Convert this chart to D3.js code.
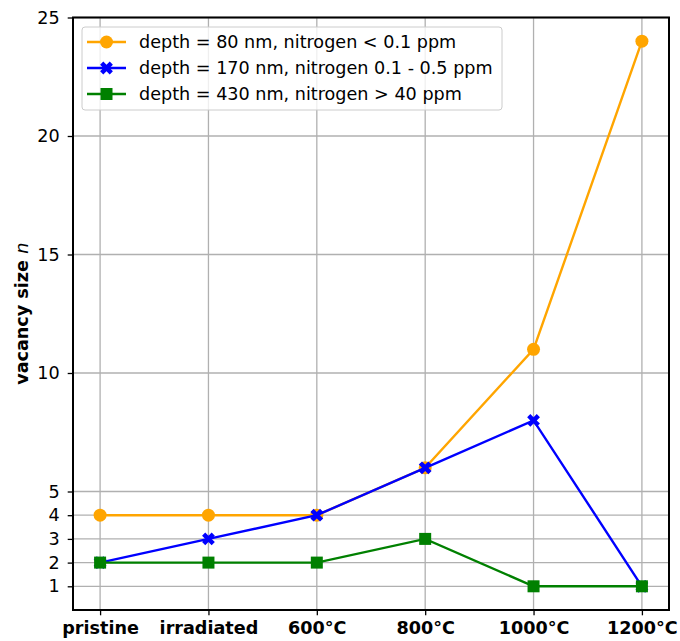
<!DOCTYPE html>
<html>
<head>
<meta charset="utf-8">
<script src="https://cdn.jsdelivr.net/npm/d3@7"></script>
<style>
  body { margin: 0; background: #fff; }
  text { font-family: "DejaVu Sans", sans-serif; }
</style>
</head>
<body>
<div id="Chart"></div>
<script>
var categories = ["pristine", "irradiated", "600°C", "800°C", "1000°C", "1200°C"];
var yTicks = [1, 2, 3, 4, 5, 10, 15, 20, 25];
var seriesNames = [
    "depth = 80 nm, nitrogen < 0.1 ppm",
    "depth = 170 nm, nitrogen 0.1 - 0.5 ppm",
    "depth = 430 nm, nitrogen > 40 ppm"
];
var orangeValues = [4, 4, 4, 6, 11, 24];
var blueValues = [2, 3, 4, 6, 8, 1];
var greenValues = [2, 2, 2, 3, 1, 1];

var series = [
    {name: seriesNames[0], values: orangeValues, color: "#ffa500", marker: "circle"},
    {name: seriesNames[1], values: blueValues, color: "#0000ff", marker: "x"},
    {name: seriesNames[2], values: greenValues, color: "#008000", marker: "square"}
];

var width = 680, height = 641;
var plotL = 73, plotR = 669, plotT = 17.5, plotB = 610;
var fs = "17.6px";

var svg = d3.select("#Chart")
            .append("svg")
            .attr("width", width)
            .attr("height", height);

var x = d3.scaleLinear().domain([-0.25, categories.length - 0.75]).range([plotL, plotR]);
var y = d3.scaleLinear().domain([0, 25]).range([plotB, plotT]);

// grid
var grid = svg.append("g");
grid.selectAll(".vg").data(categories).enter().append("line")
    .attr("x1", (d, i) => x(i)).attr("x2", (d, i) => x(i))
    .attr("y1", plotT).attr("y2", plotB)
    .attr("stroke", "#b0b0b0").attr("stroke-width", 1.3);
grid.selectAll(".hg").data(yTicks).enter().append("line")
    .attr("x1", plotL).attr("x2", plotR)
    .attr("y1", d => y(d)).attr("y2", d => y(d))
    .attr("stroke", "#b0b0b0").attr("stroke-width", 1.3);

// axes
var xAxis = d3.axisBottom(x)
    .tickValues(d3.range(categories.length))
    .tickFormat(i => categories[i])
    .tickSize(5.3).tickPadding(6);
var gx = svg.append("g").attr("transform", "translate(0," + plotB + ")").call(xAxis);
gx.select(".domain").remove();
gx.selectAll("line").attr("stroke", "#000").attr("stroke-width", 1.3);
gx.selectAll("text").attr("fill", "#000")
    .style("font-size", fs).style("font-weight", "bold")
    .style("font-family", "DejaVu Sans");

var yAxis = d3.axisLeft(y).tickValues(yTicks).tickSize(5.3).tickPadding(8);
var gy = svg.append("g").attr("transform", "translate(" + plotL + ",0)").call(yAxis);
gy.select(".domain").remove();
gy.selectAll("line").attr("stroke", "#000").attr("stroke-width", 1.3);
gy.selectAll("text").attr("fill", "#000")
    .style("font-size", fs).style("font-family", "DejaVu Sans");

// frame
svg.append("rect")
    .attr("x", plotL).attr("y", plotT)
    .attr("width", plotR - plotL).attr("height", plotB - plotT)
    .attr("fill", "none").attr("stroke", "#000").attr("stroke-width", 2);

// y label
var ylab = svg.append("text")
    .attr("transform", "translate(28," + ((plotT + plotB) / 2) + ") rotate(-90)")
    .attr("text-anchor", "middle")
    .style("font-size", fs).style("font-weight", "bold");
ylab.append("tspan").text("vacancy size ");
ylab.append("tspan").style("font-style", "italic").style("font-weight", "normal").text("n");

// markers
var xPath = [[-1, -2], [0, -1], [1, -2], [2, -1], [1, 0], [2, 1],
             [1, 2], [0, 1], [-1, 2], [-2, 1], [-1, 0], [-2, -1]];
function drawMarker(g, type, cx, cy, color) {
    if (type === "circle") {
        g.append("circle").attr("cx", cx).attr("cy", cy).attr("r", 6.5).attr("fill", color);
    } else if (type === "square") {
        g.append("rect").attr("x", cx - 6).attr("y", cy - 6)
            .attr("width", 12).attr("height", 12).attr("fill", color);
    } else {
        var s = 3.2;
        g.append("path")
            .attr("d", "M" + xPath.map(p => (cx + p[0] * s) + "," + (cy + p[1] * s)).join("L") + "Z")
            .attr("fill", color);
    }
}

var line = d3.line().x((d, i) => x(i)).y(d => y(d));
series.forEach(function(s) {
    var g = svg.append("g");
    g.append("path").datum(s.values)
        .attr("d", line)
        .attr("fill", "none").attr("stroke", s.color).attr("stroke-width", 2.4);
    s.values.forEach(function(v, i) {
        drawMarker(g, s.marker, x(i), y(v), s.color);
    });
});

// legend
var lg = svg.append("g");
lg.append("rect")
    .attr("x", 82).attr("y", 27).attr("width", 420).attr("height", 83)
    .attr("rx", 3).attr("fill", "#fff").attr("fill-opacity", 0.8)
    .attr("stroke", "#cccccc").attr("stroke-width", 1);
series.forEach(function(s, i) {
    var ly = 42 + i * 26;
    lg.append("line").attr("x1", 87).attr("x2", 126).attr("y1", ly).attr("y2", ly)
        .attr("stroke", s.color).attr("stroke-width", 2.4);
    drawMarker(lg, s.marker, 106.5, ly, s.color);
    lg.append("text").attr("x", 139).attr("y", ly).attr("dy", "0.35em")
        .style("font-size", fs).attr("fill", "#000").text(s.name);
});
</script>
</body>
</html>
